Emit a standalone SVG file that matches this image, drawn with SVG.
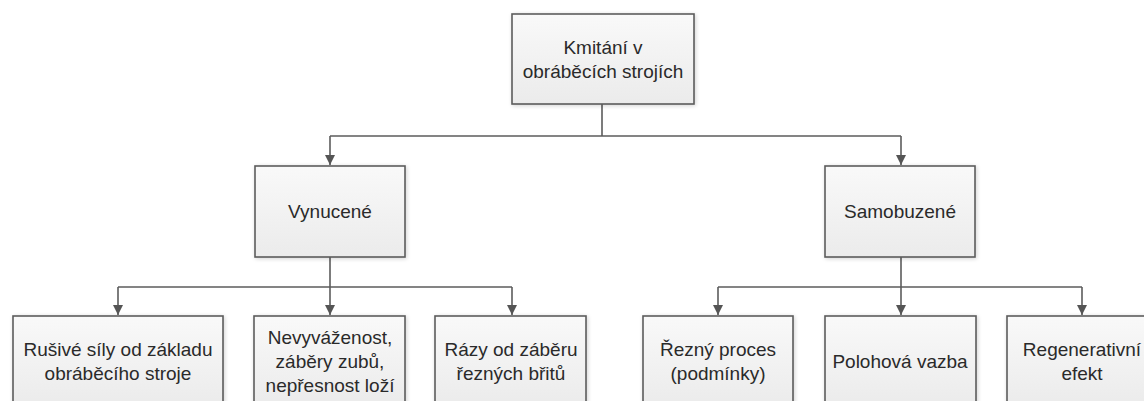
<svg xmlns="http://www.w3.org/2000/svg" width="1144" height="401" viewBox="0 0 1144 401">
  <defs>
    <linearGradient id="boxFill" x1="0" y1="0" x2="0" y2="1">
      <stop offset="0" stop-color="#f9f9f9"/>
      <stop offset="1" stop-color="#ebebeb"/>
    </linearGradient>
    <filter id="soft" x="-10%" y="-10%" width="120%" height="120%">
      <feGaussianBlur in="SourceAlpha" stdDeviation="2"/>
      <feOffset dx="1" dy="1"/>
      <feComponentTransfer><feFuncA type="linear" slope="0.18"/></feComponentTransfer>
      <feMerge><feMergeNode/><feMergeNode in="SourceGraphic"/></feMerge>
    </filter>
    <marker id="arrow" viewBox="0 0 10 10" refX="10" refY="5" markerWidth="10" markerHeight="10" markerUnits="userSpaceOnUse" orient="auto">
      <path d="M0,0 L10,5 L0,10 Z" fill="#555"/>
    </marker>
  </defs>
  <style>
    .box { fill: url(#boxFill); stroke: #5c5c5c; stroke-width: 1.6; filter: url(#soft); }
    .lbl { font-family: "Liberation Sans", Arial, sans-serif; font-size: 19px; fill: #2a2a2a; text-anchor: middle; }
    .wire { fill: none; stroke: #5c5c5c; stroke-width: 1.6; }
    .arr { fill: none; stroke: #5c5c5c; stroke-width: 1.6; marker-end: url(#arrow); }
  </style>
  <rect width="1144" height="401" fill="#ffffff"/>

  <g id="connectors">
    <!-- root to first level -->
    <path class="wire" d="M602,104 V136 M330,136 H901"/>
    <path class="arr" d="M330,136 V165"/>
    <path class="arr" d="M901,136 V165"/>
    <!-- Vynucené branch -->
    <path class="wire" d="M330,257 V287 M118,287 H512"/>
    <path class="arr" d="M118,287 V315"/>
    <path class="arr" d="M330,287 V315"/>
    <path class="arr" d="M512,287 V315"/>
    <!-- Samobuzené branch -->
    <path class="wire" d="M901,257 V287 M718,287 H1082"/>
    <path class="arr" d="M718,287 V315"/>
    <path class="arr" d="M901,287 V315"/>
    <path class="arr" d="M1082,287 V315"/>
  </g>

  <g id="root">
    <rect class="box" x="512" y="14" width="182" height="90"/>
    <text class="lbl" x="603" y="54">Kmitání v</text>
    <text class="lbl" x="603" y="78">obráběcích strojích</text>
  </g>

  <g id="vynucene">
    <rect class="box" x="255" y="166" width="150" height="91"/>
    <text class="lbl" x="330" y="218">Vynucené</text>
  </g>

  <g id="samobuzene">
    <rect class="box" x="825" y="166" width="150" height="91"/>
    <text class="lbl" x="900" y="218">Samobuzené</text>
  </g>

  <g id="rusive-sily">
    <rect class="box" x="13" y="316" width="210" height="90"/>
    <text class="lbl" x="118" y="356">Rušivé síly od základu</text>
    <text class="lbl" x="118" y="380">obráběcího stroje</text>
  </g>

  <g id="nevyvazenost">
    <rect class="box" x="254" y="316" width="151" height="90"/>
    <text class="lbl" x="330" y="344">Nevyváženost,</text>
    <text class="lbl" x="330" y="368">záběry zubů,</text>
    <text class="lbl" x="330" y="392">nepřesnost loží</text>
  </g>

  <g id="razy">
    <rect class="box" x="435" y="316" width="151" height="90"/>
    <text class="lbl" x="511" y="356">Rázy od záběru</text>
    <text class="lbl" x="511" y="380">řezných břitů</text>
  </g>

  <g id="rezny-proces">
    <rect class="box" x="643" y="316" width="150" height="90"/>
    <text class="lbl" x="718" y="356">Řezný proces</text>
    <text class="lbl" x="718" y="380">(podmínky)</text>
  </g>

  <g id="polohova-vazba">
    <rect class="box" x="825" y="316" width="151" height="90"/>
    <text class="lbl" x="900" y="368">Polohová vazba</text>
  </g>

  <g id="regenerativni">
    <rect class="box" x="1007" y="316" width="150" height="90"/>
    <text class="lbl" x="1082" y="356">Regenerativní</text>
    <text class="lbl" x="1082" y="380">efekt</text>
  </g>
</svg>
